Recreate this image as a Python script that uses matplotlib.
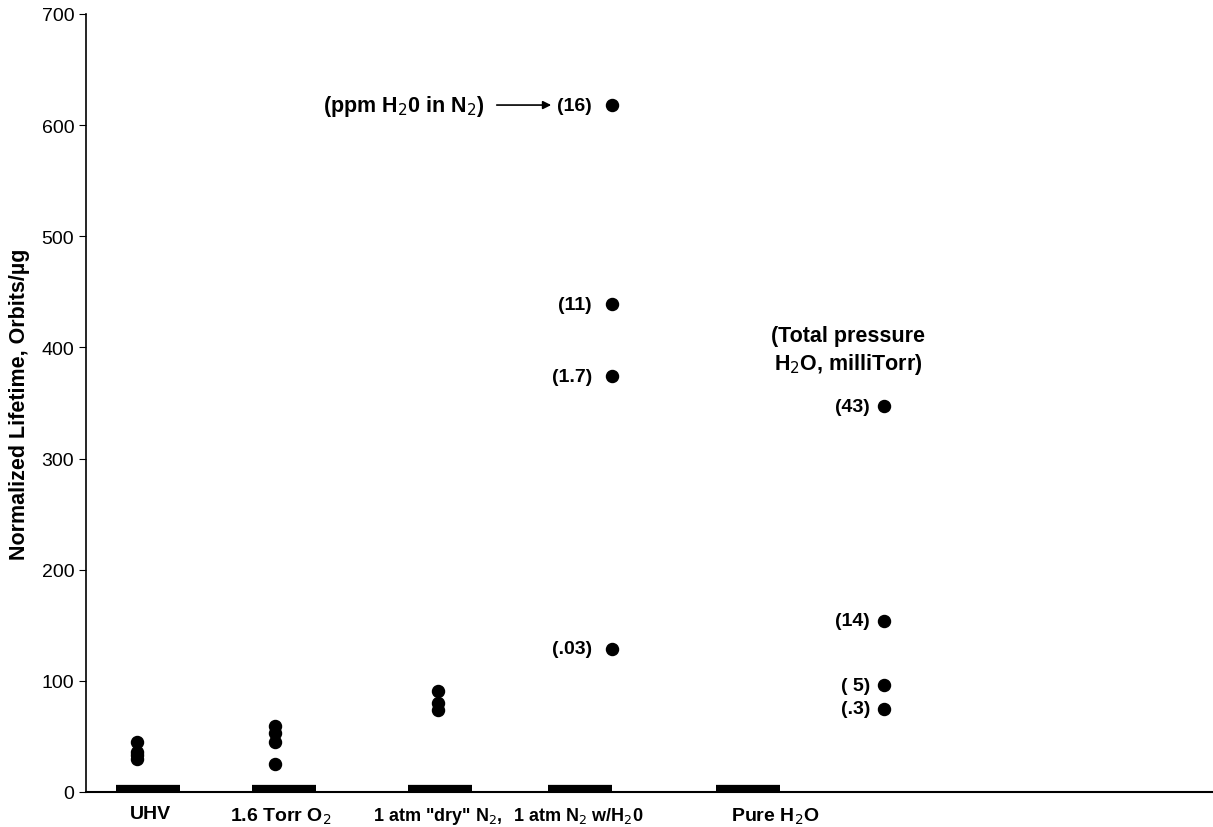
import matplotlib.pyplot as plt
import numpy as np

plt.rcParams['font.family'] = ['Liberation Sans', 'DejaVu Sans']

# data
categories = ['UHV', '1.6 Torr O$_2$', '1 atm "dry" N$_2$,', '1 atm N$_2$ w/H$_2$0', 'Pure H$_2$O']
uhv = [45, 36, 33, 30]
o2 = [59, 53, 45, 25]
dry_n2 = [91, 80, 74]
wet_n2 = [618, 439, 374, 129]
wet_n2_labels = ['(16)', '(11)', '(1.7)', '(.03)']
pure_h2o = [347, 154, 96, 75]
pure_h2o_labels = ['(43)', '(14)', '( 5)', '(.3)']
baseline = 4

# layout (x in pixel-like units)
bar_x = [148, 284, 440, 580, 748]
label_x = [150, 281, 438, 578, 775]
label_size = [14, 14, 13, 13, 14]
point_x = [137, 275, 438, 612, 884]

fig = plt.figure(figsize=(12.13, 8.28), dpi=100)
ax = fig.add_axes([0.0709, 0.0423, 0.929, 0.9397])

series = [uhv, o2, dry_n2, wet_n2, pure_h2o]
for px, vals in zip(point_x, series):
    ax.scatter([px] * len(vals), vals, s=75, color='black', zorder=3)

for bx in bar_x:
    ax.hlines(baseline, bx - 32, bx + 32, color='black', linewidth=4.5, zorder=2)

for v, lab in zip(wet_n2, wet_n2_labels):
    ax.text(point_x[3] - 20, v, lab, ha='right', va='center', fontsize=14, fontweight='bold')
for v, lab in zip(pure_h2o, pure_h2o_labels):
    ax.text(point_x[4] - 14, v, lab, ha='right', va='center', fontsize=14, fontweight='bold')

ax.annotate('', xy=(554, wet_n2[0]), xytext=(494, wet_n2[0]),
            arrowprops=dict(arrowstyle='-|>', color='black', lw=1.2, mutation_scale=12))
ax.text(484, wet_n2[0], '(ppm H$_2$0 in N$_2$)', ha='right', va='center',
        fontsize=15.5, fontweight='bold')
ax.text(848, 397, '(Total pressure\nH$_2$O, milliTorr)', ha='center', va='center',
        fontsize=15.5, fontweight='bold', linespacing=1.25)

for lx, lab, fs in zip(label_x, categories, label_size):
    ax.text(lx, -12, lab, ha='center', va='top', fontsize=fs, fontweight='bold')

ax.set_xlim(86, 1213)
ax.set_ylim(0, 700)
ax.set_yticks(np.arange(0, 701, 100))
ax.set_xticks([])
ax.tick_params(axis='y', direction='out', length=5, labelsize=14)
ax.spines['top'].set_visible(False)
ax.spines['right'].set_visible(False)
ax.spines['left'].set_linewidth(1.2)
ax.spines['bottom'].set_linewidth(1.5)
ax.set_ylabel('Normalized Lifetime, Orbits/\u00b5g', fontsize=15.5, fontweight='bold', labelpad=8)

fig.savefig('out.png', dpi=100)
